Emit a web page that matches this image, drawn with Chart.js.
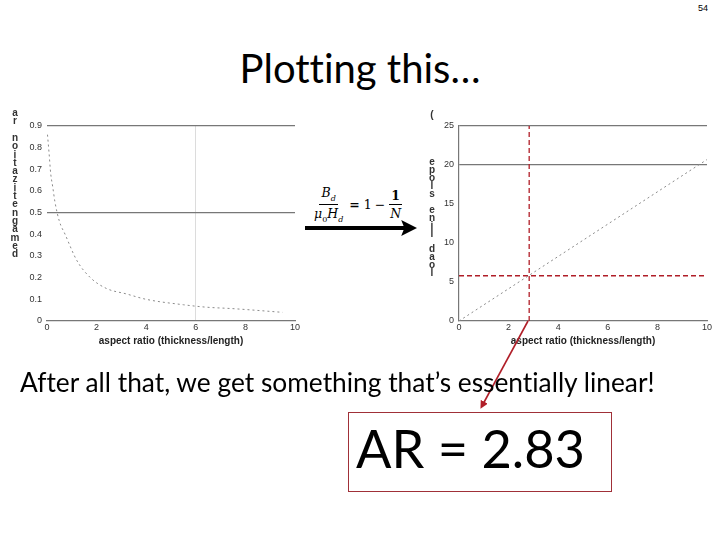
<!DOCTYPE html>
<html>
<head>
<meta charset="utf-8">
<script src="https://cdn.jsdelivr.net/npm/chart.js@4.4.1/dist/chart.umd.min.js"></script>
<style>
  body { margin: 0; width: 720px; height: 540px; background: #fff; position: relative; overflow: hidden; font-family: Lato, "Open Sans", sans-serif; font-variant-ligatures: none; }
  .abs { position: absolute; }
  #title { left: 0; width: 720px; top: 44px; text-align: center; font-size: 40px; color: #000; white-space: nowrap; }
  #caption { left: 20px; top: 366px; font-size: 23px; color: #000; white-space: nowrap; }
  #arbox { left: 348px; top: 412px; width: 262px; height: 78px; border: 1px solid #a03038; }
  #artext { left: 356px; top: 416px; font-size: 60px; color: #000; white-space: nowrap; }
  #page { left: 698px; top: 3px; font-size: 9px; font-family: "Liberation Sans", Arial, sans-serif; }
  .stack { font-family: "Liberation Sans", Arial, sans-serif; font-size: 10px; font-weight: bold; color: #333; text-align: center; width: 12px; }
  .stack span { position: absolute; left: 0; width: 12px; }
  #formula { left: 312px; top: 185px; font-family: "DejaVu Serif", "Liberation Serif", serif; font-size: 12.5px; display: flex; align-items: center; }
  .frac { display: inline-flex; flex-direction: column; align-items: center; }
  .frac .num { border-bottom: 1px solid #000; padding: 0 2px 1px; }
  .frac .den { padding: 1px 2px 0; }
  .it { font-style: italic; }
  sub { font-size: 8px; }
</style>
</head>
<body>
<div id="page" class="abs">54</div>
<div id="title" class="abs">Plotting this…</div>

<div class="abs" style="left:0;top:105px;width:310px;height:245px;"><canvas id="demag"></canvas></div>
<div class="abs" style="left:410px;top:105px;width:310px;height:245px;"><canvas id="slope"></canvas></div>

<div id="leftLabel" class="abs stack" style="left:9px;top:0;"></div>
<div id="rightLabel" class="abs stack" style="left:426px;top:0;"></div>

<div id="formula" class="abs">
  <span class="frac"><span class="num"><span class="it">B</span><sub class="it">d</sub></span><span class="den"><span class="it">μ</span><sub>0</sub><span class="it">H</span><sub class="it">d</sub></span></span>
  <span style="margin:0 4px;font-weight:bold;">=</span><span>1</span><span style="margin:0 3px;">−</span>
  <span class="frac"><span class="num" style="font-weight:bold;">1</span><span class="den it">N</span></span>
</div>

<svg class="abs" style="left:0;top:0;" width="720" height="540">
  <defs>
    <marker id="blackHead" markerWidth="4" markerHeight="4" refX="2.2" refY="2" orient="auto" markerUnits="strokeWidth">
      <path d="M0,0 L4,2 L0,4 L0.8,2 Z" fill="#000"/>
    </marker>
    <marker id="redHead" markerWidth="5" markerHeight="5" refX="3" refY="2.5" orient="auto" markerUnits="strokeWidth">
      <path d="M0,0 L5,2.5 L0,5 Z" fill="#b01e28"/>
    </marker>
  </defs>
  <line x1="305" y1="228" x2="410" y2="228" stroke="#000" stroke-width="4" marker-end="url(#blackHead)"/>
  <path d="M528,321 L482,406" stroke="#b01e28" stroke-width="1.6" fill="none" marker-end="url(#redHead)"/>
</svg>

<div id="caption" class="abs">After all that, we get something that’s essentially linear!</div>
<div id="arbox" class="abs"></div>
<div id="artext" class="abs">AR = 2.83</div>

<script>
// demagnetization curve (left)
var aspectRatio = [0.02, 0.08, 0.15, 0.23, 0.32, 0.5, 0.73, 1.2, 1.75, 2.4, 3.2, 4, 5.5, 6.4, 7.5, 9.5];
var demagRatio  = [0.86, 0.78, 0.68, 0.62, 0.55, 0.46, 0.40, 0.28, 0.2, 0.15, 0.125, 0.1, 0.075, 0.064, 0.057, 0.04];

// load line slope (right)
var slopeAR = [0, 10];
var slopeVal = [0, 20.7];
var chosenAR = 2.83;
var chosenSlope = 5.8;

var xTicks = [0, 2, 4, 6, 8, 10];
var demagTicks = [0, 0.1, 0.2, 0.3, 0.4, 0.5, 0.6, 0.7, 0.8, 0.9];
var slopeTicks = [0, 5, 10, 15, 20, 25];

var leftTitle = 'demagnetization ra';
var rightTitle = 'load line slope     (';

function stackLetters(id, text, top, step) {
    var el = document.getElementById(id);
    var chars = text.split('').reverse();
    chars.forEach(function (c, i) {
        var s = document.createElement('span');
        s.textContent = c;
        s.style.top = (top + i * step - 6) + 'px';
        el.appendChild(s);
    });
}
stackLetters('leftLabel', leftTitle, 113, 8.3);
stackLetters('rightLabel', rightTitle, 115, 7.9);

function toPts(xs, ys) {
    return xs.map(function (x, i) { return { x: x, y: ys[i] }; });
}
function near(a, b) { return Math.abs(a - b) < 1e-6; }

var tickFont = { family: '"Liberation Sans", Arial, sans-serif', size: 9 };
var titleFont = { family: '"Liberation Sans", Arial, sans-serif', size: 10, weight: 'bold' };

function xScale(gridFn) {
    return {
        type: 'linear', min: 0, max: 10,
        afterBuildTicks: function (s) { s.ticks = xTicks.map(function (v) { return { value: v }; }); },
        afterFit: function (s) { s.height = 26; },
        ticks: { font: tickFont, color: '#333', padding: 1, maxRotation: 0 },
        grid: { drawTicks: false, color: gridFn },
        border: { display: true, color: '#777', width: 1.2 },
        title: { display: true, text: 'aspect ratio (thickness/length)', font: titleFont, color: '#222', padding: 0 }
    };
}

// gráfico izquierdo
new Chart(document.getElementById('demag').getContext('2d'), {
    type: 'scatter',
    data: {
        datasets: [{
            data: toPts(aspectRatio, demagRatio),
            showLine: true,
            borderColor: '#8a8a8a',
            borderWidth: 1,
            borderDash: [2, 3],
            pointRadius: 0,
            cubicInterpolationMode: 'monotone'
        }]
    },
    options: {
        responsive: true,
        maintainAspectRatio: false,
        animation: false,
        layout: { padding: { top: 21, right: 15, left: 0, bottom: 3 } },
        plugins: { legend: { display: false }, tooltip: { enabled: false } },
        scales: {
            x: xScale(function (c) { return c.tick && near(c.tick.value, 6) ? '#dcdcdc' : 'rgba(0,0,0,0)'; }),
            y: {
                type: 'linear', min: 0, max: 0.9,
                afterBuildTicks: function (s) { s.ticks = demagTicks.map(function (v) { return { value: v }; }); },
                afterFit: function (s) { s.width = 47; },
                ticks: {
                    font: tickFont, color: '#333', padding: 5,
                    callback: function (v) { return v === 0 ? '0' : v.toFixed(1); }
                },
                grid: {
                    drawTicks: false,
                    color: function (c) {
                        return c.tick && (near(c.tick.value, 0.5) || near(c.tick.value, 0.9)) ? '#777' : 'rgba(0,0,0,0)';
                    },
                    lineWidth: 1.2
                },
                border: { display: false }
            }
        }
    }
});

// gráfico derecho
new Chart(document.getElementById('slope').getContext('2d'), {
    type: 'scatter',
    data: {
        datasets: [{
            data: toPts(slopeAR, slopeVal),
            showLine: true,
            borderColor: '#8a8a8a',
            borderWidth: 1,
            borderDash: [2, 3],
            pointRadius: 0
        }, {
            data: [{ x: chosenAR, y: 0 }, { x: chosenAR, y: 25 }],
            showLine: true,
            borderColor: '#b01e28',
            borderWidth: 1.3,
            borderDash: [5, 3],
            pointRadius: 0
        }, {
            data: [{ x: 0, y: chosenSlope }, { x: 10, y: chosenSlope }],
            showLine: true,
            borderColor: '#b01e28',
            borderWidth: 1.3,
            borderDash: [5, 3],
            pointRadius: 0
        }]
    },
    options: {
        responsive: true,
        maintainAspectRatio: false,
        animation: false,
        layout: { padding: { top: 21, right: 13, left: 0, bottom: 3 } },
        plugins: { legend: { display: false }, tooltip: { enabled: false } },
        scales: {
            x: xScale('rgba(0,0,0,0)'),
            y: {
                type: 'linear', min: 0, max: 25,
                afterBuildTicks: function (s) { s.ticks = slopeTicks.map(function (v) { return { value: v }; }); },
                afterFit: function (s) { s.width = 49; },
                ticks: { font: tickFont, color: '#333', padding: 5 },
                grid: {
                    drawTicks: false,
                    color: function (c) {
                        return c.tick && (c.tick.value === 20 || c.tick.value === 25) ? '#777' : 'rgba(0,0,0,0)';
                    },
                    lineWidth: 1.2
                },
                border: { display: true, color: '#777', width: 1.2 }
            }
        }
    }
});

// ajustar textos al ancho del original
function fitWidth(id, target) {
    var el = document.getElementById(id);
    var fs = parseFloat(getComputedStyle(el).fontSize);
    var w = el.getBoundingClientRect().width;
    el.style.fontSize = (fs * target / w) + 'px';
}
fitWidth('caption', 635);
fitWidth('artext', 229);
</script>
</body>
</html>
